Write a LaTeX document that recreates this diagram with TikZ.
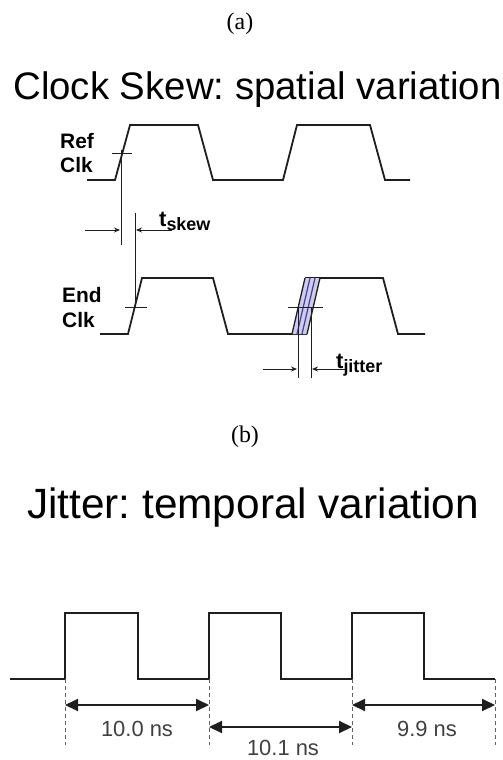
\documentclass[tikz,border=0pt]{standalone}
\usepackage{fontspec}
\setmainfont{Liberation Serif}
\setsansfont{Liberation Sans}
\usetikzlibrary{arrows.meta}
\definecolor{ink}{HTML}{1E1E1E}
\definecolor{jitline}{RGB}{70,60,160}
\definecolor{jitfill}{RGB}{205,205,235}
\frenchspacing
\tikzset{
  wave/.style={line width=1.8bp, draw=ink, line join=miter},
  thinline/.style={line width=0.9bp, draw=ink},
  dimarrow/.style={line width=0.9bp, draw=ink, -{Stealth[length=6bp,width=5bp]}},
  bigarrow/.style={line width=2bp, draw=ink, {Triangle[length=13bp,width=12bp]}-{Triangle[length=13bp,width=12bp]}},
  dashv/.style={line width=0.7bp, draw=ink!70, dash pattern=on 4bp off 3bp},
  caption/.style={font=\fontsize{24}{26}\selectfont, inner sep=0pt},
  title/.style={font=\sffamily\fontsize{#1}{#1}\selectfont, inner sep=0pt, anchor=base},
  sig/.style={font=\sffamily\bfseries\fontsize{21}{22}\selectfont, inner sep=0pt, anchor=base west},
  tlab/.style={font=\sffamily\bfseries\fontsize{22}{22}\selectfont, inner sep=0pt, anchor=base west},
  nslab/.style={font=\sffamily\fontsize{22}{22}\selectfont, text=ink!85, inner sep=0pt}
}
\newcommand{\subtxt}[1]{\raisebox{-4bp}{\fontsize{18}{18}\selectfont #1}}
\begin{document}
\begin{tikzpicture}[x=1bp,y=-1bp]
\useasboundingbox[fill=white] (0,0) rectangle (503,760);
% captions and titles
\node[caption] (capa) at (240,24) {(a)};
\node[title=38.5] (t1) at (257.5,99) {\frenchspacing Clock Skew: spatial variation};
\node[caption] (capb) at (245,437) {(b)};
\node[title=42.5] (t2) at (253,518) {\frenchspacing Jitter: temporal variation};
% signal labels
\node[sig] (ref) at (60,148) {Ref};
\node[sig] (refclk) at (60,172) {Clk};
\node[sig] (endl) at (62,302) {End};
\node[sig] (endclk) at (62,327) {Clk};
% Ref clock
\draw[wave] (87,180) -- (115,180) -- (130,125) -- (198,125) -- (213,180) -- (283,180) -- (297,125) -- (370,125) -- (385,180) -- (410,180);
\draw[thinline] (112,153) -- (132,153);
\coordinate (sk1t) at (121,150);
\coordinate (sk1b) at (121,245);
\draw[thinline] (sk1t) -- (sk1b);
% End clock
\draw[wave] (100,334) -- (128,334) -- (142,278) -- (213,278) -- (228,334) -- (292,334) -- (307,334);
\draw[wave] (305,278) -- (383,278) -- (398,334) -- (425,334);
\fill[jitfill] (292,334) -- (305,278) -- (320,278) -- (307,334) -- cycle;
\draw[line width=1.2bp, draw=jitline] (297,334) -- (310,278);
\draw[line width=1.2bp, draw=jitline] (302,334) -- (315,278);
\draw[line width=1.3bp, draw=ink] (292,334) -- (305,278);
\draw[line width=1.3bp, draw=ink] (307,334) -- (320,278);
\draw[thinline] (125,307) -- (147,307);
\draw[thinline] (288,307) -- (323,307);
\coordinate (sk2t) at (135,213);
\coordinate (sk2b) at (135,307);
\draw[thinline] (sk2t) -- (sk2b);
% skew arrows
\coordinate (sa1) at (85,230);
\coordinate (sa1e) at (120,230);
\coordinate (sa2) at (172,230);
\coordinate (sa2e) at (136,230);
\draw[dimarrow] (sa1) -- (sa1e);
\draw[dimarrow] (sa2) -- (sa2e);
\node[tlab] (tskew) at (159,226) {t\subtxt{skew}};
% jitter markers
\coordinate (j1t) at (298,307);
\coordinate (j1b) at (298,378);
\coordinate (j2t) at (311,307);
\coordinate (j2b) at (311,378);
\draw[thinline] (j1t) -- (j1b);
\draw[thinline] (j2t) -- (j2b);
\coordinate (ja1) at (263,369);
\coordinate (ja1e) at (297,369);
\coordinate (ja2) at (345,369);
\coordinate (ja2e) at (312,369);
\draw[dimarrow] (ja1) -- (ja1e);
\draw[dimarrow] (ja2) -- (ja2e);
\node[tlab] (tjit) at (336,368) {t\subtxt{jitter}};
% bottom waveform
\draw[wave] (10,679) -- (65,679) -- (65,613) -- (138,613) -- (138,679) -- (209,679) -- (209,613) -- (281,613) -- (281,679) -- (352,679) -- (352,613) -- (424,613) -- (424,679) -- (495,679);
\coordinate (d1t) at (65,679); \coordinate (d1b) at (65,745);
\coordinate (d2t) at (209,679); \coordinate (d2b) at (209,745);
\coordinate (d3t) at (352,679); \coordinate (d3b) at (352,745);
\coordinate (d4t) at (495,679); \coordinate (d4b) at (495,745);
\draw[dashv] (d1t) -- (d1b);
\draw[dashv] (d2t) -- (d2b);
\draw[dashv] (d3t) -- (d3b);
\draw[dashv] (d4t) -- (d4b);
\coordinate (p1a) at (65,705); \coordinate (p1b) at (209,705);
\coordinate (p2a) at (209,727); \coordinate (p2b) at (352,727);
\coordinate (p3a) at (352,705); \coordinate (p3b) at (495,705);
\draw[bigarrow] (p1a) -- (p1b);
\draw[bigarrow] (p2a) -- (p2b);
\draw[bigarrow] (p3a) -- (p3b);
\node[nslab] (l1) at (137,729) {10.0 ns};
\node[nslab] (l2) at (283,748) {10.1 ns};
\node[nslab] (l3) at (427,729) {9.9 ns};
\end{tikzpicture}
\end{document}
